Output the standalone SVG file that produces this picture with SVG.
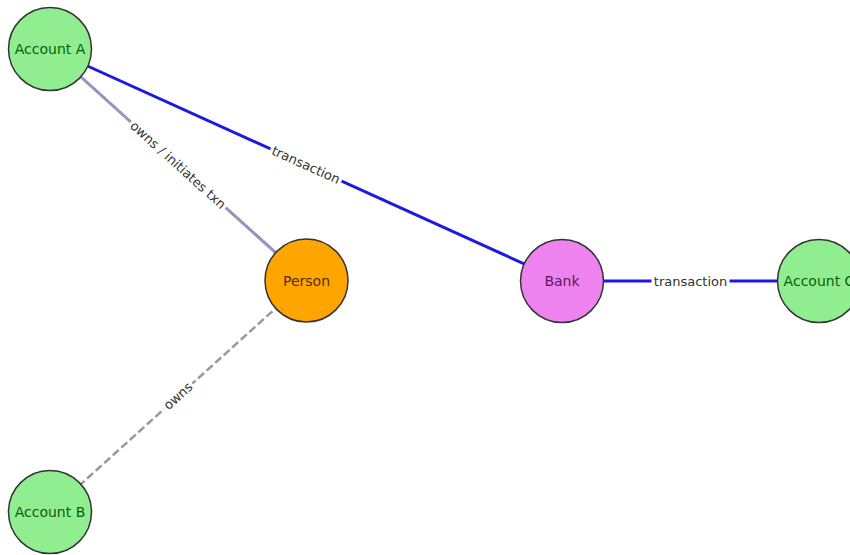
<svg xmlns="http://www.w3.org/2000/svg" width="850" height="555" viewBox="0 0 850 555">
<style>
.node{stroke:#333;stroke-width:1.5}
.acc{fill:#90EE90}
.nl{font-family:"DejaVu Sans",sans-serif;font-size:14px;text-anchor:middle;dominant-baseline:central}
.el{font-family:"DejaVu Sans",sans-serif;font-size:13px;fill:#333;text-anchor:middle;dominant-baseline:central}
.txn{stroke:#1a1ae0;stroke-width:3;fill:none}
.own{stroke:#999;stroke-width:2.5;stroke-dasharray:8 3.5;fill:none}
.lb{fill:#fff}
</style>
<rect width="850" height="555" fill="#fff"/>
<g id="connectors">
  <line class="txn" x1="50" y1="49" x2="562" y2="281"/>
  <line class="txn" x1="562" y1="281" x2="819" y2="281"/>
  <line x1="50" y1="49" x2="306.5" y2="280.5" stroke="#3a3ad0" stroke-width="3" stroke-opacity="0.55"/>
  <line class="own" x1="50" y1="49" x2="306.5" y2="280.5" stroke-opacity="0.85"/>
  <line class="own" x1="306.5" y1="280.5" x2="50" y2="512"/>
  <g transform="translate(306,165) rotate(24.4)">
    <rect class="lb" x="-39" y="-8" width="78" height="16"/>
    <text class="el" x="0" y="0">transaction</text>
  </g>
  <g transform="translate(690.5,281)">
    <rect class="lb" x="-39" y="-8" width="78" height="16"/>
    <text class="el" x="0" y="0">transaction</text>
  </g>
  <g transform="translate(178,165) rotate(42.1)">
    <rect class="lb" x="-64" y="-8" width="128" height="16"/>
    <text class="el" x="0" y="0">owns / initiates txn</text>
  </g>
  <g transform="translate(178,396) rotate(-42.1)">
    <rect class="lb" x="-19" y="-8" width="38" height="16"/>
    <text class="el" x="0" y="0">owns</text>
  </g>
</g>
<g id="account-a">
  <circle class="node acc" cx="50" cy="49" r="41.5"/>
  <text class="nl" x="50" y="49" fill="#0b5d0b">Account A</text>
</g>
<g id="person">
  <circle class="node" cx="306.5" cy="280.5" r="41.5" fill="#FFA500"/>
  <text class="nl" x="306.5" y="280.5" fill="#4a3200">Person</text>
</g>
<g id="bank">
  <circle class="node" cx="562" cy="281" r="41.5" fill="#EE82EE"/>
  <text class="nl" x="562" y="281" fill="#5a1a5a">Bank</text>
</g>
<g id="account-c">
  <circle class="node acc" cx="819" cy="281" r="41.5"/>
  <text class="nl" x="819" y="281" fill="#0b5d0b">Account C</text>
</g>
<g id="account-b">
  <circle class="node acc" cx="50" cy="512" r="41.5"/>
  <text class="nl" x="50" y="512" fill="#0b5d0b">Account B</text>
</g>
</svg>
